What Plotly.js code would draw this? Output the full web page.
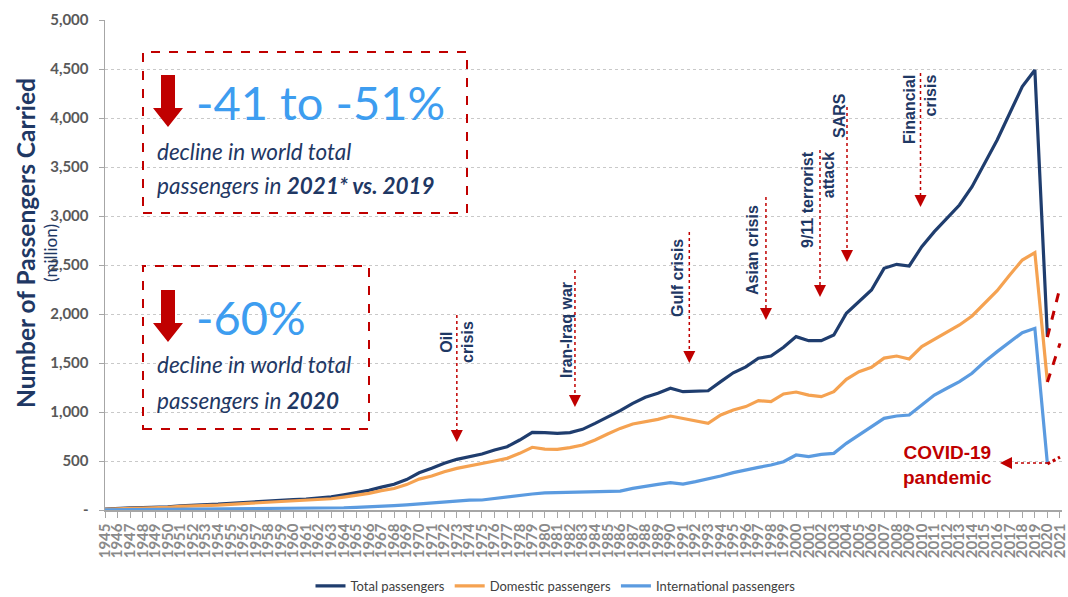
<!DOCTYPE html>
<html><head><meta charset="utf-8">
<script src="https://cdn.plot.ly/plotly-3.0.1.min.js"></script>
<style>html,body{margin:0;padding:0;background:#fff}#chart{width:1068px;height:597px}</style>
</head><body><div id="chart"></div>
<script>
// ---------- data (million passengers) ----------
const years = [1945,1946,1947,1948,1949,1950,1951,1952,1953,1954,1955,1956,1957,1958,1959,1960,1961,1962,1963,1964,1965,1966,1967,1968,1969,1970,1971,1972,1973,1974,1975,1976,1977,1978,1979,1980,1981,1982,1983,1984,1985,1986,1987,1988,1989,1990,1991,1992,1993,1994,1995,1996,1997,1998,1999,2000,2001,2002,2003,2004,2005,2006,2007,2008,2009,2010,2011,2012,2013,2014,2015,2016,2017,2018,2019,2020];
const totalPassengers = [9,18,21,24,27,31,42,46,52,59,68,76,87,88,98,106,111,121,135,155,177,200,233,262,310,380,425,476,517,544,571,612,646,714,793,790,782,790,823,884,946,1014,1088,1150,1191,1242,1207,1214,1217,1310,1400,1460,1548,1571,1660,1769,1728,1728,1786,2007,2126,2245,2466,2507,2490,2687,2840,2976,3112,3299,3538,3776,4048,4320,4490,1765];
const domesticPassengers = [7,15,17,20,22,26,36,39,44,50,58,65,75,76,84,91,95,103,115,132,150,170,197,219,259,315,347,391,425,449,469,500,527,578,640,622,619,636,663,714,776,833,878,901,925,959,935,911,884,969,1020,1055,1116,1105,1184,1204,1173,1156,1207,1333,1411,1456,1550,1571,1541,1667,1742,1820,1888,1980,2109,2238,2398,2551,2626,1306];
const internationalPassengers = [2,3,4,4,5,5,6,7,8,9,10,11,12,12,14,15,16,18,20,23,27,31,37,44,52,61,75,85,95,100,102,119,136,150,163,175,177,177,178,185,188,192,221,245,262,279,265,289,316,347,381,410,435,459,493,561,544,568,578,680,765,850,935,959,969,1071,1173,1242,1310,1395,1513,1616,1718,1810,1854,470];
// 2021* estimates (dashed)
const projYears = [2020, 2021];
const totalProj = [1765, 2270];
const domesticProj = [1306, 1700];
const internationalProj = [470, 540];
// axis ticks
const tickYears = [1945,1946,1947,1948,1949,1950,1951,1952,1953,1954,1955,1956,1957,1958,1959,1960,1961,1962,1963,1964,1965,1966,1967,1968,1969,1970,1971,1972,1973,1974,1975,1976,1977,1978,1979,1980,1981,1982,1983,1984,1985,1986,1987,1988,1989,1990,1991,1992,1993,1994,1995,1996,1997,1998,1999,2000,2001,2002,2003,2004,2005,2006,2007,2008,2009,2010,2011,2012,2013,2014,2015,2016,2017,2018,2019,2020,2021];
const tickYearLabels = ["1945","1946","1947","1948","1949","1950","1951","1952","1953","1954","1955","1956","1957","1958","1959","1960","1961","1962","1963","1964","1965","1966","1967","1968","1969","1970","1971","1972","1973","1974","1975","1976","1977","1978","1979","1980","1981","1982","1983","1984","1985","1986","1987","1988","1989","1990","1991","1992","1993","1994","1995","1996","1997","1998","1999","2000","2001","2002","2003","2004","2005","2006","2007","2008","2009","2010","2011","2012","2013","2014","2015","2016","2017","2018","2019","2020","2021"];
const yTickVals = [0,500,1000,1500,2000,2500,3000,3500,4000,4500,5000];
const yTickText = ["-","500","1,000","1,500","2,000","2,500","3,000","3,500","4,000","4,500","5,000"];
// events
const eventLabels = ["Oil<br>crisis","Iran-Iraq war","Gulf crisis","Asian crisis","9/11 terrorist<br>attack","SARS","Financial<br>crisis"];
const eventYears = [1973, 1982.4, 1991.5, 1997.6, 2001.9, 2004.05, 2009.9];

// ---------- layout geometry ----------
const W = 1068, H = 597, L = 105, R = 6, T = 20, B = 87;
const PW = W - L - R, PH = H - T - B;
const xp = px => (px - L) / PW;
const yp = py => (H - B - py) / PH;
const xv = px => 1945 + (px - L) * 76.16 / PW;
const yv = py => (H - B - py) * 5000 / PH;

const NAVY = '#1f3864', RED = '#c00000';
const C_TOTAL = '#1f3d6e', C_DOM = '#f5a251', C_INT = '#5b9be0';

const traces = [
  {x: years, y: totalPassengers, name: 'Total passengers', type: 'scatter', mode: 'lines', line: {color: C_TOTAL, width: 3.2}},
  {x: years, y: domesticPassengers, name: 'Domestic passengers', type: 'scatter', mode: 'lines', line: {color: C_DOM, width: 3.2}},
  {x: years, y: internationalPassengers, name: 'International passengers', type: 'scatter', mode: 'lines', line: {color: C_INT, width: 3.2}},
  {x: projYears, y: totalProj, showlegend: false, hoverinfo: 'skip', type: 'scatter', mode: 'lines', line: {color: RED, width: 3, dash: 'dash'}},
  {x: projYears, y: domesticProj, showlegend: false, hoverinfo: 'skip', type: 'scatter', mode: 'lines', line: {color: RED, width: 3, dash: 'dash'}},
  {x: projYears, y: internationalProj, showlegend: false, hoverinfo: 'skip', type: 'scatter', mode: 'lines', line: {color: RED, width: 3, dash: 'dot'}}
];

const shapes = [];
const annotations = [];

// info boxes
shapes.push({type: 'rect', xref: 'paper', yref: 'paper', x0: xp(143), x1: xp(467), y0: yp(213), y1: yp(52), line: {color: RED, width: 2, dash: 'dash'}, fillcolor: 'rgba(255,255,255,0)'});
shapes.push({type: 'rect', xref: 'paper', yref: 'paper', x0: xp(143), x1: xp(369), y0: yp(429), y1: yp(266), line: {color: RED, width: 2, dash: 'dash'}, fillcolor: 'rgba(255,255,255,0)'});
function bigArrow(top) {
  const pts = [[161,top],[175,top],[175,top+33],[183,top+33],[168,top+52],[153,top+33],[161,top+33]];
  return {type: 'path', xref: 'paper', yref: 'paper', fillcolor: RED, line: {width: 0},
    path: 'M' + pts.map(p => xp(p[0]).toFixed(5) + ',' + yp(p[1]).toFixed(5)).join('L') + 'Z'};
}
shapes.push(bigArrow(75));
shapes.push(bigArrow(290));

const bigFont = {family: 'Lato, "Open Sans", sans-serif', size: 47, color: '#3d9df0'};
const itFont = {family: 'Lato, "Open Sans", sans-serif', size: 22.5, color: NAVY};
function txt(text, x, y, font) {
  annotations.push({text: text, xref: 'paper', yref: 'paper', x: xp(x), y: yp(y), xanchor: 'left', yanchor: 'middle', showarrow: false, font: font});
}
txt('-41 to -51%', 194, 102, bigFont);
txt('<i>decline in world total</i>', 155, 151, itFont);
txt('<i>passengers in <b>2021* vs. 2019</b></i>', 155, 186, itFont);
txt('-60%', 194, 317, bigFont);
txt('<i>decline in world total</i>', 155, 364, itFont);
txt('<i>passengers in <b>2020</b></i>', 155, 400, itFont);

// y-axis title
annotations.push({text: '<b>Number of Passengers Carried</b>', xref: 'paper', yref: 'paper', x: xp(25), y: yp(243), xanchor: 'center', yanchor: 'middle', textangle: -90, showarrow: false, font: {family: 'Lato, sans-serif', size: 24.5, color: NAVY}});
annotations.push({text: '(million)', xref: 'paper', yref: 'paper', x: xp(50), y: yp(253), xanchor: 'center', yanchor: 'middle', textangle: -90, showarrow: false, font: {family: 'Lato, sans-serif', size: 17, color: NAVY}});

// event markers (pixel-measured geometry)
const evGeom = [
  [315, 442, 457, 342, 'center'],
  [270, 407, 566, 330, 'center'],
  [232, 363, 677, 278, 'center'],
  [197, 320, 752, 250, 'center'],
  [150, 297, 818, 200, 'right'],
  [107, 262, 839, 116, 'center'],
  [73, 207, 920, 110, 'right']
];
const evFont = {family: '"Liberation Sans", Arial, sans-serif', size: 16, color: NAVY};
eventLabels.forEach((lab, i) => {
  const g = evGeom[i];
  const yr = eventYears[i];
  shapes.push({type: 'line', xref: 'x', yref: 'y', x0: yr, x1: yr, y0: yv(g[0]), y1: yv(g[1]) + 60, line: {color: RED, width: 1.5, dash: 'dot'}});
  annotations.push({text: '', xref: 'x', yref: 'y', x: yr, y: yv(g[1]), ax: 0, ay: -9, showarrow: true, arrowhead: 2, arrowsize: 1.2, arrowwidth: 2, arrowcolor: RED, standoff: 0});
  annotations.push({text: '<b>' + lab + '</b>', xref: 'x', yref: 'y', x: xv(g[2]), y: yv(g[3]), xanchor: 'center', yanchor: 'middle', textangle: -90, align: g[4], showarrow: false, font: evFont});
});

// COVID-19
annotations.push({text: '<b>COVID-19<br>pandemic</b>', xref: 'paper', yref: 'paper', x: xp(947), y: yp(465), xanchor: 'center', yanchor: 'middle', showarrow: false, font: {family: '"Liberation Sans", Arial, sans-serif', size: 19, color: RED}});
shapes.push({type: 'line', xref: 'x', yref: 'y', x0: xv(1048), x1: xv(1006), y0: yv(463), y1: yv(463), line: {color: RED, width: 1.5, dash: 'dot'}});
annotations.push({text: '', xref: 'x', yref: 'y', x: xv(1000), y: yv(463), ax: 9, ay: 0, showarrow: true, arrowhead: 2, arrowsize: 1.2, arrowwidth: 2, arrowcolor: RED, standoff: 0});

const layout = {
  width: W, height: H,
  margin: {l: L, r: R, t: T, b: B, autoexpand: false},
  paper_bgcolor: '#ffffff', plot_bgcolor: '#ffffff',
  showlegend: true,
  legend: {orientation: 'h', x: 0.5 - 28 / PW, xanchor: 'center', y: (H - B - 586) / PH, yanchor: 'middle', font: {family: 'Lato, sans-serif', size: 13, color: '#404040'}},
  xaxis: {
    range: [1945, 2021.16], tickmode: 'array', tickvals: tickYears, ticktext: tickYearLabels, tickangle: -90, automargin: false,
    tickfont: {family: 'Lato, sans-serif', size: 15, color: '#8a8a8a', weight: 'bold'},
    ticks: 'outside', ticklen: 6, tickcolor: '#a6a6a6', tickwidth: 1,
    showline: true, linecolor: '#a6a6a6', linewidth: 1.5, showgrid: false, zeroline: false
  },
  yaxis: {
    range: [0, 5000], tickmode: 'array', tickvals: yTickVals, ticktext: yTickText, automargin: false,
    tickfont: {family: 'Lato, sans-serif', size: 15, color: '#595959', weight: 'bold'},
    ticks: 'outside', ticklen: 5, tickcolor: '#a6a6a6', ticklabelstandoff: 7,
    showline: true, linecolor: '#a6a6a6', linewidth: 1.5,
    showgrid: true, gridcolor: '#c9c9c9', gridwidth: 1, griddash: 'dot', zeroline: false
  },
  shapes: shapes,
  annotations: annotations
};

Plotly.newPlot('chart', traces, layout, {displayModeBar: false, staticPlot: true});
</script>
</body></html>
